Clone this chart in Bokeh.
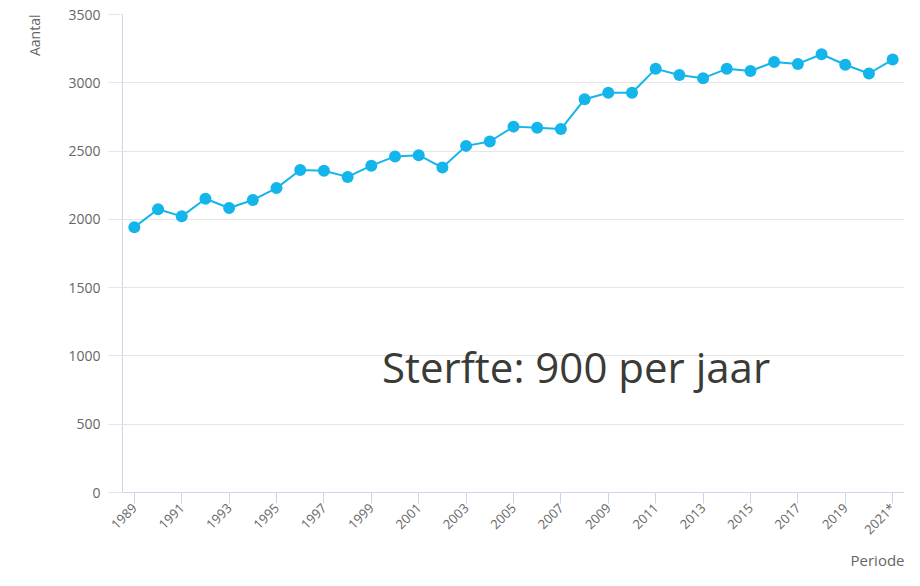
from bokeh.plotting import figure
from bokeh.models import ColumnDataSource, FixedTicker, Range1d, Label, Title
from bokeh.embed import file_html
from bokeh.resources import INLINE
import math

years = list(range(1989, 2022))
deaths = [1943, 2074, 2022, 2151, 2083, 2142, 2229, 2361, 2356, 2311,
          2393, 2461, 2470, 2379, 2538, 2570, 2679, 2670, 2661, 2879,
          2927, 2927, 3102, 3057, 3034, 3102, 3086, 3152, 3138, 3209,
          3132, 3068, 3170]
tick_years = years[::2]
tick_labels = {2021: "2021*"}
y_ticks = [0, 500, 1000, 1500, 2000, 2500, 3000, 3500]
y_title = "Aantal"
x_title = "Periode"
note = "Sterfte: 900 per jaar"

FONT = "Open Sans"
src = ColumnDataSource(dict(x=years, y=deaths))

p = figure(width=904, height=570, output_backend="svg", toolbar_location=None,
           x_range=Range1d(1988.5, 2021.5), y_range=Range1d(0, 3500),
           min_border_left=119, min_border_right=0, min_border_top=14,
           min_border_bottom=40)
p.outline_line_color = None
p.background_fill_color = "white"
p.border_fill_color = "white"

# grid
p.xgrid.grid_line_color = None
p.ygrid.grid_line_color = "#e6e6e6"
p.ygrid.grid_line_width = 1

# y axis
p.yaxis.ticker = FixedTicker(ticks=y_ticks)
p.yaxis.axis_line_color = "#ccd6eb"
p.yaxis.major_tick_line_color = "#e6e6e6"
p.yaxis.major_tick_out = 14
p.yaxis.major_tick_in = 0
p.yaxis.minor_tick_line_color = None
p.yaxis.major_label_text_color = "#666666"
p.yaxis.major_label_text_font = FONT
p.yaxis.major_label_text_font_size = "14px"
p.yaxis.major_label_standoff = 8

# x axis
p.xaxis.ticker = FixedTicker(ticks=tick_years)
p.xaxis.major_label_overrides = {k: v for k, v in tick_labels.items()}
p.xaxis.axis_line_color = "#ccd6eb"
p.xaxis.major_tick_line_color = "#ccd6eb"
p.xaxis.major_tick_out = 11
p.xaxis.major_tick_in = 0
p.xaxis.minor_tick_line_color = None
p.xaxis.major_label_orientation = math.pi / 4
p.xaxis.major_label_text_color = "#666666"
p.xaxis.major_label_text_font = FONT
p.xaxis.major_label_text_font_size = "13px"
p.xaxis.major_label_standoff = 2

# series
p.line("x", "y", source=src, line_color="#13b5ea", line_width=2)
p.scatter("x", "y", source=src, size=12, fill_color="#13b5ea", line_color=None)

# titles
p.add_layout(Title(text=y_title, align="right", vertical_align="bottom",
                   standoff=44,
                   text_font=FONT, text_font_size="14px",
                   text_font_style="normal", text_color="#666666"), "left")
p.add_layout(Title(text=x_title, align="right", vertical_align="bottom",
                   standoff=1, offset=0,
                   text_font=FONT, text_font_size="15px",
                   text_font_style="normal", text_color="#666666"), "below")
p.add_layout(Label(x=1999.45, y=921, text=note,
                   text_align="left", text_baseline="alphabetic",
                   text_font=FONT, text_font_size="42px",
                   text_color="#3a3a36"))

open("out.html", "w").write(file_html(p, INLINE))
